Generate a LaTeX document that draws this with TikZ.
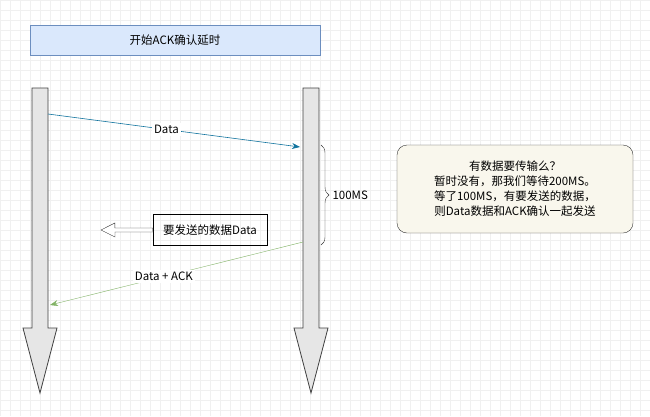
\documentclass[tikz,border=0pt]{standalone}
\usepackage{fontspec}
\setmainfont{Noto Sans CJK SC}
\usetikzlibrary{positioning, decorations.pathreplacing, arrows.meta}
\definecolor{hdrfill}{HTML}{DAE8FC}
\definecolor{hdrline}{HTML}{6C8EBF}
\definecolor{notefill}{HTML}{F9F7ED}
\definecolor{dataline}{HTML}{10739E}
\definecolor{ackline}{HTML}{82B366}
\definecolor{lane}{HTML}{E6E6E6}
\begin{document}
\begin{tikzpicture}[x=1pt, y=-1pt, font=\fontsize{11.5}{15}\selectfont,
     header/.style = {rectangle, draw=hdrline, fill=hdrfill, minimum width=290pt, minimum height=30pt},
       note/.style = {rectangle, rounded corners=10pt, draw=black!80, fill=notefill, minimum width=236pt, minimum height=88pt, align=center},
       tbox/.style = {rectangle, draw, minimum width=114pt, minimum height=31pt, inner sep=1pt},
       lbl/.style = {fill=white, inner sep=2pt, text=black},
       msg/.style = {-{Stealth[length=8pt]}, thin}
                    ]
\useasboundingbox (0,0) rectangle (650,416);
\fill[white] (0,0) rectangle (650,416);
% faint grid
\draw[black!6, step=10pt] (0,0) grid (650,416);
% header
\node (hdr) [header] at (175,40) {开始ACK确认延时};
% lifelines
\foreach \x/\n in {40/left, 311/right}{
  \draw[black!75, fill=lane, thick] (\x-8,88) -- (\x+8,88) -- (\x+8,328) -- (\x+17,328)
     -- (\x,393) -- (\x-17,328) -- (\x-8,328) -- cycle;
  \coordinate (\n) at (\x,88);
}
\coordinate (d1) at (48,114);
\coordinate (d2) at (300,147);
\coordinate (a1) at (303,242);
\coordinate (a2) at (50,305);
% messages
\draw[msg, dataline, semithick] (d1) -- node[lbl, pos=0.47] {Data} (d2);
\draw[msg, ackline] (a1) -- node[lbl, pos=0.55] {Data + ACK} (a2);
% brace
\coordinate (b1) at (321,145);
\coordinate (b2) at (321,245);
\draw[decorate, decoration={brace, amplitude=8pt}, black!80] (b1) -- node[right=8pt, text=black] {100MS} (b2);
% note
\node (wait) [note] at (515,189) {有数据要传输么？\\暂时没有，那我们等待200MS。\\等了100MS，有要发送的数据，\\则Data数据和ACK确认一起发送};
% data to send
\node (send) [tbox] at (210,230) {要发送的数据Data};
\coordinate (tip) at (101,230);
\draw[black!80, fill=white] (send.west) ++(0,-2) -- ++(-38,0) -- ++(0,-5) -- (tip)
   -- ++(14,7) -- ++(0,-5) -- ++(38,0) -- cycle;
\end{tikzpicture}
\end{document}
